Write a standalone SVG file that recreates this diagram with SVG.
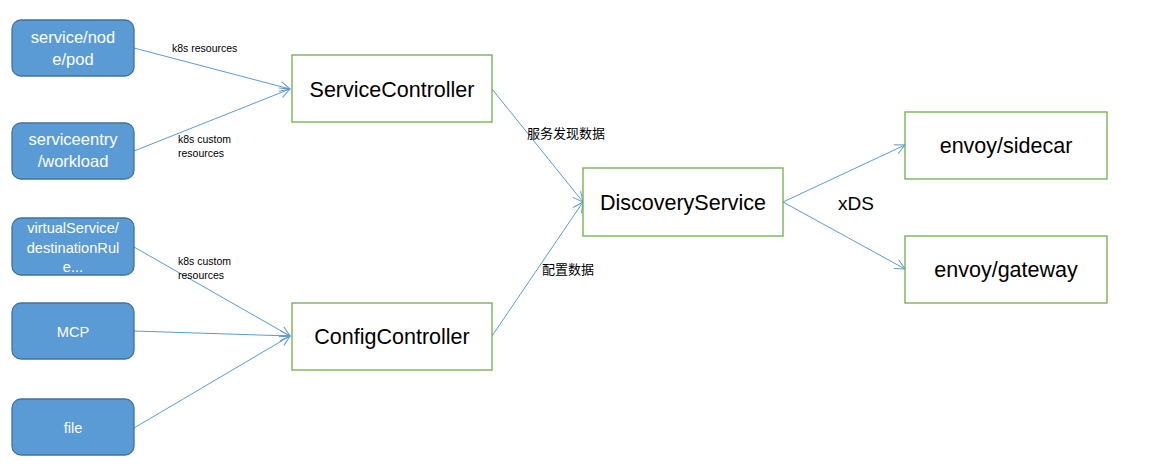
<svg xmlns="http://www.w3.org/2000/svg" width="1173" height="475" viewBox="0 0 1173 475">
<style>
.src rect{fill:#5B9BD5;stroke:#41719C;stroke-width:1.3}
.src text{fill:#fff;font-family:"Liberation Sans",Arial,sans-serif;font-size:16.5px;text-anchor:middle}
.src text.sm{font-size:14.6px}
.ctl rect{fill:#fff;stroke:#70AD47;stroke-width:1.3}
.ctl text{fill:#000;font-family:"Liberation Sans",Arial,sans-serif;font-size:21.5px;text-anchor:middle}
.edge line{stroke:#5B9BD5;stroke-width:1;fill:none}
.lbl{font-family:"Liberation Sans",Arial,"Noto Sans CJK SC",sans-serif;font-size:10.5px;fill:#000}
.cjk{font-family:"Noto Sans CJK SC","Liberation Sans",sans-serif;font-size:13px;fill:#000}
</style>
<defs>
<marker id="arr" viewBox="0 0 12 12" refX="11" refY="6" markerWidth="12" markerHeight="12" markerUnits="userSpaceOnUse" orient="auto">
<path d="M1,1 L11,6 L1,11" fill="none" stroke="#5B9BD5" stroke-width="1"/>
</marker>
</defs>
<rect width="1173" height="475" fill="#fff"/>
<g id="connectors" class="edge">
<line x1="134" y1="48" x2="290" y2="89" marker-end="url(#arr)"/>
<line x1="134" y1="151" x2="290" y2="89" marker-end="url(#arr)"/>
<line x1="134" y1="247" x2="290" y2="336" marker-end="url(#arr)"/>
<line x1="134" y1="331" x2="290" y2="336" marker-end="url(#arr)"/>
<line x1="134" y1="428" x2="290" y2="336" marker-end="url(#arr)"/>
<line x1="492" y1="89" x2="583" y2="202" marker-end="url(#arr)"/>
<line x1="492" y1="336" x2="583" y2="202" marker-end="url(#arr)"/>
<line x1="783" y1="202" x2="905" y2="145" marker-end="url(#arr)"/>
<line x1="783" y1="202" x2="905" y2="269" marker-end="url(#arr)"/>
</g>
<g id="labels">
<text class="lbl" x="172" y="52">k8s resources</text>
<text class="lbl" x="178" y="143">k8s custom</text>
<text class="lbl" x="178" y="157">resources</text>
<text class="lbl" x="178" y="265">k8s custom</text>
<text class="lbl" x="178" y="279">resources</text>
<text class="cjk" x="527" y="138">服务发现数据</text>
<text class="cjk" x="542" y="274">配置数据</text>
<text x="838" y="210" font-family="Liberation Sans,Arial,sans-serif" font-size="19" fill="#000">xDS</text>
</g>
<g id="n-service" class="src"><rect x="12" y="20" width="122" height="56" rx="9"/><text x="73" y="43">service/nod</text><text x="73" y="65">e/pod</text></g>
<g id="n-serviceentry" class="src"><rect x="12" y="123" width="122" height="56" rx="9"/><text x="73" y="145">serviceentry</text><text x="73" y="167">/workload</text></g>
<g id="n-virtualservice" class="src"><rect x="12" y="218" width="122" height="57" rx="9"/><text class="sm" x="73" y="233">virtualService/</text><text class="sm" x="73" y="253">destinationRul</text><text class="sm" x="73" y="272">e...</text></g>
<g id="n-mcp" class="src"><rect x="12" y="303" width="122" height="56" rx="9"/><text class="sm" x="73" y="337">MCP</text></g>
<g id="n-file" class="src"><rect x="12" y="399" width="122" height="56" rx="9"/><text class="sm" x="73" y="433">file</text></g>
<g id="n-servicecontroller" class="ctl"><rect x="292" y="55" width="200" height="67"/><text x="392" y="97">ServiceController</text></g>
<g id="n-configcontroller" class="ctl"><rect x="292" y="303" width="200" height="67"/><text x="392" y="344">ConfigController</text></g>
<g id="n-discovery" class="ctl"><rect x="583" y="168" width="200" height="68"/><text x="683" y="210">DiscoveryService</text></g>
<g id="n-sidecar" class="ctl"><rect x="905" y="112" width="202" height="67"/><text x="1006" y="153">envoy/sidecar</text></g>
<g id="n-gateway" class="ctl"><rect x="905" y="236" width="202" height="67"/><text x="1006" y="277">envoy/gateway</text></g>
</svg>
